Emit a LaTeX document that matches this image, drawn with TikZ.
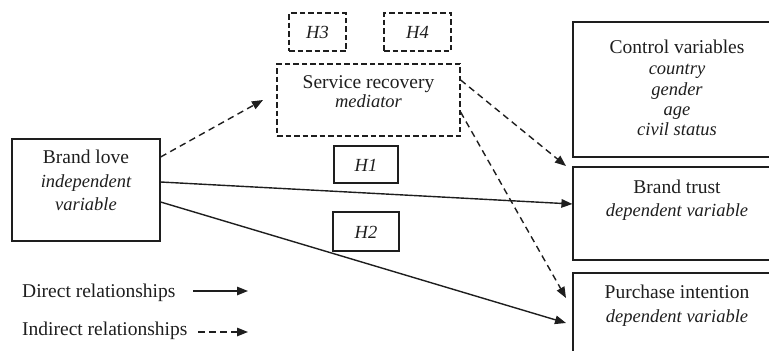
\documentclass[tikz,border=0pt]{standalone}
\usepackage{fontspec}
\setmainfont{Liberation Serif}
\usetikzlibrary{arrows.meta}
\definecolor{ink}{HTML}{1E1E1E}
\tikzset{
  box/.style={draw=ink, line width=1.2pt, rectangle, inner sep=0pt},
  dbox/.style={box, dash pattern=on 5.5pt off 3pt},
  lbl/.style={anchor=base, inner sep=0pt, text=ink, font=\fontsize{19.5}{22}\selectfont},
  ilbl/.style={anchor=base, inner sep=0pt, text=ink, font=\fontsize{18.5}{22}\selectfont\itshape},
  rel/.style={draw=ink, line width=1.4pt, -{Triangle[length=11pt,width=8.5pt]}},
  drel/.style={rel, dash pattern=on 6.5pt off 4.5pt},
}
\begin{document}
\begin{tikzpicture}[x=1pt,y=-1pt]
\useasboundingbox (0,0) rectangle (769,351);
\clip (0,0) rectangle (769,351);

% boxes
\node[box, minimum width=148pt, minimum height=102pt] (bl) at (86,190) {};
\node[dbox, minimum width=183pt, minimum height=72pt] (sr) at (368.5,100) {};
\node[dbox, minimum width=57pt, minimum height=38pt] (h3) at (317.5,32) {};
\node[dbox, minimum width=67pt, minimum height=38pt] (h4) at (417.5,32) {};
\node[box, minimum width=64pt, minimum height=37pt] (h1) at (366,164.5) {};
\node[box, minimum width=66pt, minimum height=39pt] (h2) at (366,231.5) {};
\node[box, minimum width=208pt, minimum height=135pt] (cv) at (677,89.5) {};
\node[box, minimum width=208pt, minimum height=93pt] (bt) at (677,213.5) {};
\node[box, minimum width=208pt, minimum height=107pt] (pi) at (677,326.5) {};

% texts
\node[lbl] (blt1) at (86,163) {Brand love};
\node[ilbl] (blt2) at (86,187) {independent};
\node[ilbl] (blt3) at (86,210) {variable};

\node[lbl] (srt1) at (368.5,88) {Service recovery};
\node[ilbl] (srt2) at (368.5,107) {mediator};

\node[ilbl] (h3t) at (317.5,38.5) {H3};
\node[ilbl] (h4t) at (417.5,38.5) {H4};
\node[ilbl] (h1t) at (366,171) {H1};
\node[ilbl] (h2t) at (366,238) {H2};

\node[lbl] (cvt1) at (677,53) {Control variables};
\node[ilbl] (cvt2) at (677,74) {country};
\node[ilbl] (cvt3) at (677,95) {gender};
\node[ilbl] (cvt4) at (677,115) {age};
\node[ilbl] (cvt5) at (677,135) {civil status};

\node[lbl] (btt1) at (677,193) {Brand trust};
\node[ilbl] (btt2) at (677,216) {dependent variable};

\node[lbl] (pit1) at (677,298) {Purchase intention};
\node[ilbl] (pit2) at (677,322) {dependent variable};

% legend
\node[lbl, anchor=base west] (ld) at (22,297) {Direct relationships};
\node[lbl, anchor=base west] (li) at (22,335) {Indirect relationships};
\coordinate (lda) at (193,291);
\coordinate (ldb) at (248,291);
\coordinate (lia) at (198,332);
\coordinate (lib) at (248,332);
\draw[rel] (lda) -- (ldb);
\draw[drel] (lia) -- (lib);

% connectors
\coordinate (e1) at (263,100);
\coordinate (e3) at (566,323);
\coordinate (e4) at (566,166);
\coordinate (e5) at (566,298);
\draw[drel] ([yshift=33pt]bl.east) -- (e1);
\draw[rel] ([yshift=8pt]bl.east) -- ([yshift=9.5pt]bt.west);
\draw[rel] ([yshift=-12pt]bl.east) -- (e3);
\draw[drel] ([yshift=20pt]sr.east) -- (e4);
\draw[drel] ([yshift=-12pt]sr.east) -- (e5);
\end{tikzpicture}
\end{document}
